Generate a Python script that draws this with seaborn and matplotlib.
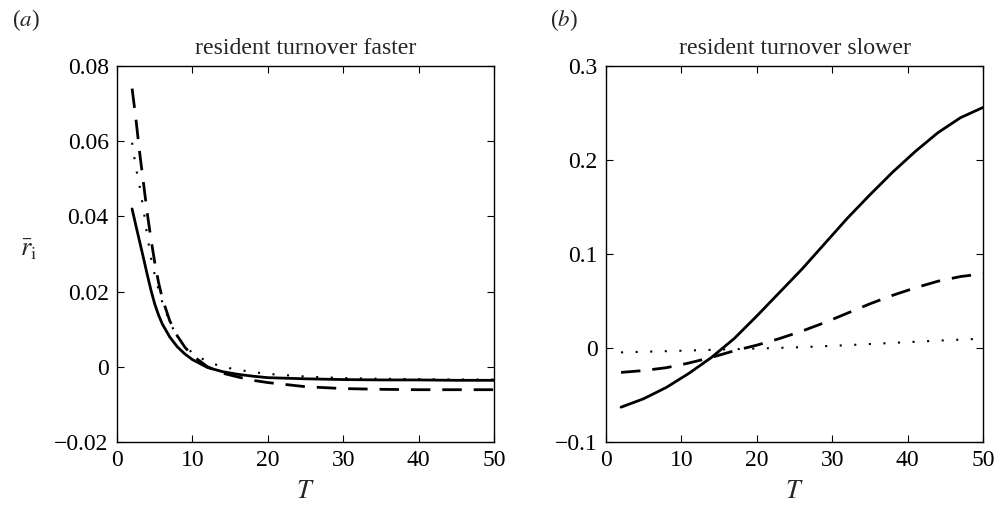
import matplotlib
matplotlib.use("Agg")
import matplotlib.pyplot as plt
import seaborn as sns
import pandas as pd

# panel (a): resident turnover faster
T_a = [2, 2.5, 3, 3.5, 4, 4.5, 5, 5.5, 6, 7, 8, 9, 10, 12, 14, 16, 18, 20,
       25, 30, 35, 40, 45, 50]
solid_a = [0.042, 0.0376, 0.0333, 0.0290, 0.0246, 0.0204, 0.0167, 0.0138,
           0.0114, 0.0079, 0.0053, 0.0034, 0.0019, -0.0002, -0.0013, -0.0020,
           -0.0025, -0.0029, -0.0032, -0.0034, -0.0035, -0.0035, -0.0036, -0.0036]
dashed_a = [0.074, 0.066, 0.057, 0.049, 0.041, 0.034, 0.0278, 0.0225, 0.0182,
            0.0122, 0.0082, 0.0052, 0.0030, 0.0000, -0.0017, -0.0027, -0.0036,
            -0.0042, -0.0053, -0.0058, -0.0060, -0.0061, -0.0061, -0.0061]
dotted_a = [0.0596, 0.053, 0.048, 0.042, 0.035, 0.029, 0.0245, 0.0205, 0.0172,
            0.0118, 0.0080, 0.0055, 0.0037, 0.0013, 0.0000, -0.0008, -0.0014,
            -0.0019, -0.0026, -0.0030, -0.0032, -0.0033, -0.0034, -0.0034]

# panel (b): resident turnover slower
T_b = [2, 5, 8, 11, 14, 17, 20, 23, 26, 29, 32, 35, 38, 41, 44, 47, 50]
solid_b = [-0.063, -0.054, -0.042, -0.027, -0.010, 0.010, 0.034, 0.059, 0.084,
           0.111, 0.138, 0.163, 0.187, 0.209, 0.229, 0.245, 0.256]
dashed_b = [-0.026, -0.024, -0.021, -0.016, -0.010, -0.003, 0.003, 0.010, 0.018,
            0.027, 0.037, 0.047, 0.056, 0.064, 0.071, 0.076, 0.079]
dotted_b = [-0.0047, -0.0040, -0.0034, -0.0027, -0.0020, -0.0013, -0.0006, 0.0001,
            0.0009, 0.0019, 0.0030, 0.0042, 0.0054, 0.0066, 0.0078, 0.0089, 0.0099]

titles = ["resident turnover faster", "resident turnover slower"]
panel_labels = ["($a$)", "($b$)"]
yticks_a = [-0.02, 0, 0.02, 0.04, 0.06, 0.08]
yticks_b = [-0.1, 0, 0.1, 0.2, 0.3]
xticks = [0, 10, 20, 30, 40, 50]

sns.set_style("ticks")
plt.rcParams["font.family"] = ["Liberation Serif", "DejaVu Serif"]
plt.rcParams["mathtext.fontset"] = "stix"

fig = plt.figure(figsize=(9.95, 5.08), dpi=100)
ax_a = fig.add_axes([0.1176, 0.130, 0.379, 0.740])
ax_b = fig.add_axes([0.609, 0.130, 0.379, 0.740])

styles = {
    "solid": dict(linestyle="-", linewidth=2.0),
    "dashed": dict(linestyle=(0, (7, 4.3)), linewidth=2.0),
    "dotted": dict(linestyle=(0, (1, 6)), linewidth=1.5),
}


def draw_panel(ax, T, series, yticks, title):
    for name, vals in series.items():
        df = pd.DataFrame({"T": T, "r": vals})
        sns.lineplot(data=df, x="T", y="r", ax=ax, color="k", **styles[name])
    ax.set_xlim(0, 50)
    ax.set_ylim(yticks[0], yticks[-1])
    ax.set_xticks(xticks)
    ax.set_yticks(yticks)
    ax.set_yticklabels(["0" if v == 0 else f"{v:g}".replace("-", "\u2212")
                        for v in yticks])
    ax.tick_params(direction="in", length=5, width=0.8, top=True, right=True,
                   labelsize=17, pad=6, colors="k")
    for sp in ax.spines.values():
        sp.set_linewidth(1.0)
        sp.set_color("k")
    ax.set_title(title, fontsize=17.2, pad=9)
    ax.set_xlabel("$T$", fontsize=19, labelpad=7)
    ax.set_ylabel("")


draw_panel(ax_a, T_a, {"solid": solid_a, "dashed": dashed_a, "dotted": dotted_a},
           yticks_a, titles[0])
draw_panel(ax_b, T_b, {"solid": solid_b, "dashed": dashed_b, "dotted": dotted_b},
           yticks_b, titles[1])

ax_a.set_ylabel(r"$\bar{r}_{\mathrm{i}}$", fontsize=19, rotation=0, va="center")
ax_a.yaxis.set_label_coords(-0.235, 0.51)

fig.text(0.012, 0.96, panel_labels[0], fontsize=16.5, va="center", ha="left")
fig.text(0.553, 0.96, panel_labels[1], fontsize=16.5, va="center", ha="left")

fig.savefig("out.png", dpi=100)
